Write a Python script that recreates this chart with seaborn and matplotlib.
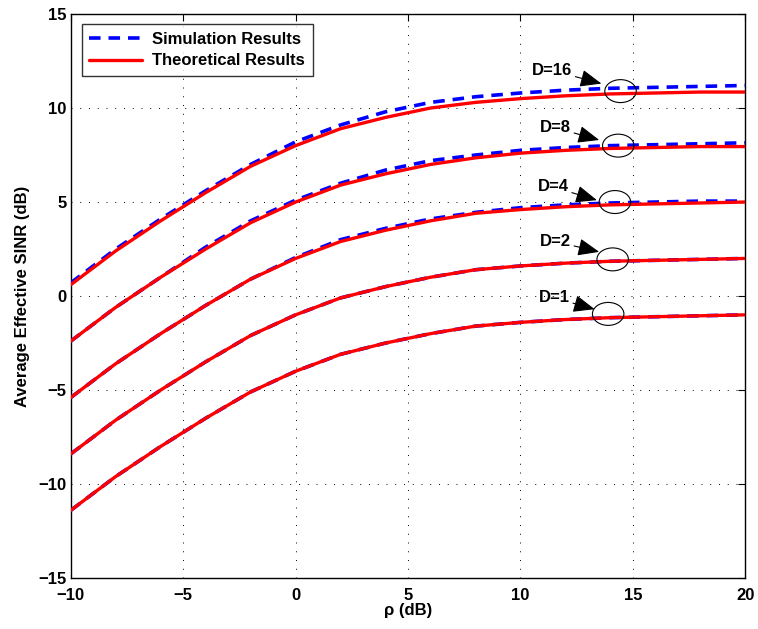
import numpy as np
import pandas as pd
import matplotlib
matplotlib.use("Agg")
import matplotlib.pyplot as plt
from matplotlib.patches import Ellipse
import seaborn as sns

# rho (dB) grid
rho_db = [-10, -8, -6, -4, -2, 0, 2, 4, 6, 8, 10, 12, 14, 16, 18, 20]

# theoretical results
theory_d1 = [-11.4, -9.6, -8.0, -6.5, -5.1, -4.0, -3.1, -2.5, -2.0, -1.6, -1.4, -1.25, -1.15, -1.1, -1.05, -1.0]
theory_d2 = [-8.4, -6.6, -5.0, -3.5, -2.1, -1.0, -0.1, 0.5, 1.0, 1.4, 1.6, 1.75, 1.85, 1.9, 1.95, 2.0]
theory_d4 = [-5.4, -3.6, -2.0, -0.5, 0.9, 2.0, 2.9, 3.5, 4.0, 4.4, 4.6, 4.75, 4.85, 4.9, 4.95, 5.0]
theory_d8 = [-2.4, -0.6, 1.0, 2.5, 3.9, 5.0, 5.9, 6.5, 7.0, 7.35, 7.6, 7.75, 7.85, 7.9, 7.95, 7.95]
theory_d16 = [0.6, 2.4, 4.0, 5.5, 6.9, 8.0, 8.9, 9.5, 10.0, 10.3, 10.5, 10.65, 10.75, 10.8, 10.85, 10.85]

# simulation results
sim_d1 = [-11.4, -9.6, -8.0, -6.5, -5.1, -4.0, -3.1, -2.5, -2.0, -1.6, -1.4, -1.25, -1.15, -1.1, -1.05, -1.0]
sim_d2 = [-8.4, -6.6, -5.0, -3.5, -2.1, -1.0, -0.1, 0.5, 1.0, 1.4, 1.6, 1.75, 1.85, 1.9, 1.95, 2.0]
sim_d4 = [-5.4, -3.6, -2.0, -0.5, 0.9, 2.05, 3.0, 3.6, 4.1, 4.45, 4.7, 4.85, 4.95, 5.0, 5.05, 5.05]
sim_d8 = [-2.4, -0.6, 1.0, 2.6, 4.0, 5.1, 6.0, 6.7, 7.2, 7.5, 7.75, 7.9, 8.0, 8.05, 8.1, 8.15]
sim_d16 = [0.7, 2.5, 4.1, 5.6, 7.0, 8.2, 9.1, 9.8, 10.3, 10.6, 10.8, 10.95, 11.05, 11.1, 11.15, 11.2]

d_labels = ["D=1", "D=2", "D=4", "D=8", "D=16"]
theory = [theory_d1, theory_d2, theory_d4, theory_d8, theory_d16]
sim = [sim_d1, sim_d2, sim_d4, sim_d8, sim_d16]

# annotation: label position, arrow tip, ellipse centre
label_xy = [(11.5, -0.1), (11.55, 2.9), (11.45, 5.8), (11.55, 8.95), (11.4, 12.0)]
tip_xy = [(13.3, -0.7), (13.5, 2.35), (13.4, 5.1), (13.5, 8.3), (13.6, 11.3)]
ell_xy = [(13.9, -0.95), (14.1, 1.95), (14.2, 5.0), (14.35, 8.0), (14.45, 10.9)]

sns.set_theme(style="white")
plt.rcParams['font.family'] = ['Liberation Sans', 'DejaVu Sans']
plt.rcParams['font.weight'] = 'bold'
plt.rcParams['axes.labelweight'] = 'bold'
plt.rcParams['text.color'] = 'black'
plt.rcParams['axes.labelcolor'] = 'black'
plt.rcParams['xtick.color'] = 'black'
plt.rcParams['ytick.color'] = 'black'

fig = plt.figure(figsize=(7.58, 6.29), dpi=100)
ax = fig.add_axes([0.0933, 0.081, 0.8900, 0.8967])

rows = []
for lab, t, s in zip(d_labels, theory, sim):
    for x, yt, ys in zip(rho_db, t, s):
        rows.append({"rho": x, "D": lab, "kind": "sim", "sinr": ys})
        rows.append({"rho": x, "D": lab, "kind": "theory", "sinr": yt})
df = pd.DataFrame(rows)

dash = (0, (3.2, 2.2))
for lab in d_labels:
    sub = df[(df.D == lab) & (df.kind == "sim")]
    sns.lineplot(data=sub, x="rho", y="sinr", ax=ax, color="#0000ff",
                 lw=2.6, linestyle=dash, zorder=3)
for lab in d_labels:
    sub = df[(df.D == lab) & (df.kind == "theory")]
    sns.lineplot(data=sub, x="rho", y="sinr", ax=ax, color="#ff0000",
                 lw=2.4, zorder=4)

for lab, lxy, txy, exy in zip(d_labels, label_xy, tip_xy, ell_xy):
    ax.annotate(lab, xy=txy, xytext=lxy, fontsize=12, fontweight='bold',
                ha='center', va='center', zorder=6,
                arrowprops=dict(arrowstyle='-|>,head_length=1.1,head_width=0.45',
                                color='black', lw=0.8, shrinkA=0, shrinkB=0))
    ax.add_patch(Ellipse(exy, width=1.4, height=1.22, fill=False,
                         edgecolor='black', lw=0.8, zorder=6))

ax.set_xlim(-10, 20)
ax.set_ylim(-15, 15)
ax.set_xticks(range(-10, 21, 5))
ax.set_yticks(range(-15, 16, 5))
ax.grid(True, color='black', linestyle=(0, (1, 8)), lw=0.7)
ax.tick_params(direction='in', length=5, width=0.8, top=True, right=True,
               labelsize=12, colors='black', pad=3)
ax.tick_params(axis='x', pad=7)
for sp in ax.spines.values():
    sp.set_color('black')
    sp.set_linewidth(1.0)
ax.set_xlabel("ρ (dB)", fontsize=12, labelpad=0)
ax.set_ylabel("Average Effective SINR (dB)", fontsize=12, labelpad=6)

handles = [plt.Line2D([], [], color='#0000ff', lw=2.6, linestyle=dash),
           plt.Line2D([], [], color='#ff0000', lw=2.4)]
leg = ax.legend(handles, ["Simulation Results", "Theoretical Results"],
                loc='upper left', bbox_to_anchor=(0.016, 0.982), fontsize=12,
                frameon=True, fancybox=False, edgecolor='black',
                handlelength=3.2, borderpad=0.45, labelspacing=0.4,
                handletextpad=0.6, borderaxespad=0)
leg.get_frame().set_linewidth(1.0)

fig.savefig("out.png", dpi=100)
